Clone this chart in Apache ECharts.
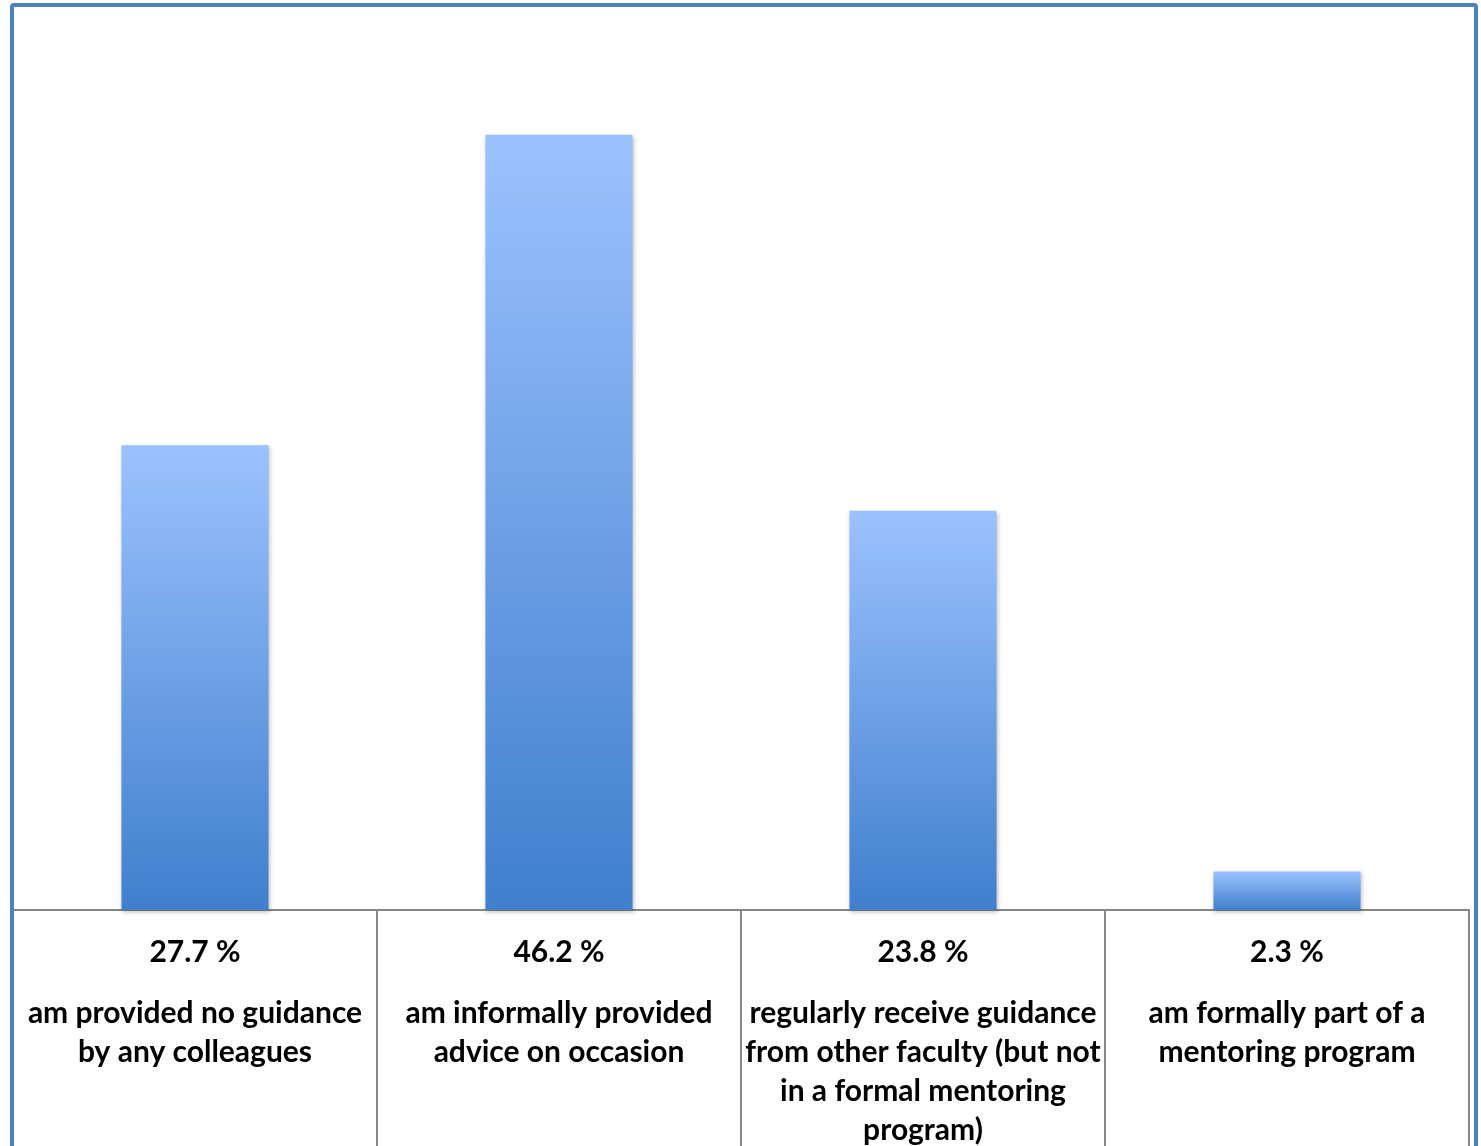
<!DOCTYPE html>
<html>
<head>
<meta charset="utf-8">
<script src="https://cdn.jsdelivr.net/npm/echarts@6/dist/echarts.min.js"></script>
<style>
html,body{margin:0;padding:0;background:#fff;}
#chart{width:1481px;height:1146px;}
</style>
</head>
<body>
<div id="chart"></div>
<script>
const categories = [
  "am provided no guidance\nby any colleagues",
  "am informally provided\nadvice on occasion",
  "regularly receive guidance\nfrom other faculty (but not\nin a formal mentoring\nprogram)",
  "am formally part of a\nmentoring program"
];
const values = [27.7, 46.2, 23.8, 2.3];
const valueLabels = ["27.7 %", "46.2 %", "23.8 %", "2.3 %"];

const chart = echarts.init(document.getElementById('chart'), null, {renderer: 'canvas'});
const FONT = 'Lato';
chart.setOption({
  animation: false,
  backgroundColor: '#ffffff',
  grid: {left: 13, right: 12, top: 71, bottom: 236, containLabel: false},
  xAxis: {
    type: 'category',
    data: categories,
    boundaryGap: true,
    axisLine: {show: true, lineStyle: {color: '#878787', width: 2}},
    axisTick: {show: true, interval: 0, length: 240, lineStyle: {color: '#878787', width: 2}},
    axisLabel: {
      interval: 0,
      margin: 1,
      formatter: function (v, i) {
        return '{v|' + valueLabels[i] + '}\n' + v.split('\n').map(function (s) { return '{c|' + s + '}'; }).join('\n');
      },
      rich: {
        v: {fontFamily: FONT, fontWeight: 'bold', fontSize: 30, color: '#000', lineHeight: 83},
        c: {fontFamily: FONT, fontWeight: 'bold', fontSize: 30, color: '#000', lineHeight: 39}
      }
    }
  },
  yAxis: {
    type: 'value', min: 0, max: 50, show: false,
    splitLine: {show: false}
  },
  series: [{
    type: 'bar',
    data: values,
    barWidth: '40.4%',
    itemStyle: {
      color: new echarts.graphic.LinearGradient(0, 0, 0, 1, [
        {offset: 0, color: '#9CC2FE'},
        {offset: 1, color: '#3F7FCD'}
      ]),
      shadowColor: 'rgba(0,0,0,0.25)',
      shadowBlur: 4,
      shadowOffsetX: 1,
      shadowOffsetY: 2
    }
  }],
  graphic: [{
    type: 'rect',
    z: 100,
    shape: {x: 12, y: 5, width: 1464, height: 1200, r: 2},
    style: {fill: 'none', stroke: '#4F81BD', lineWidth: 4}
  }]
});
</script>
</body>
</html>
